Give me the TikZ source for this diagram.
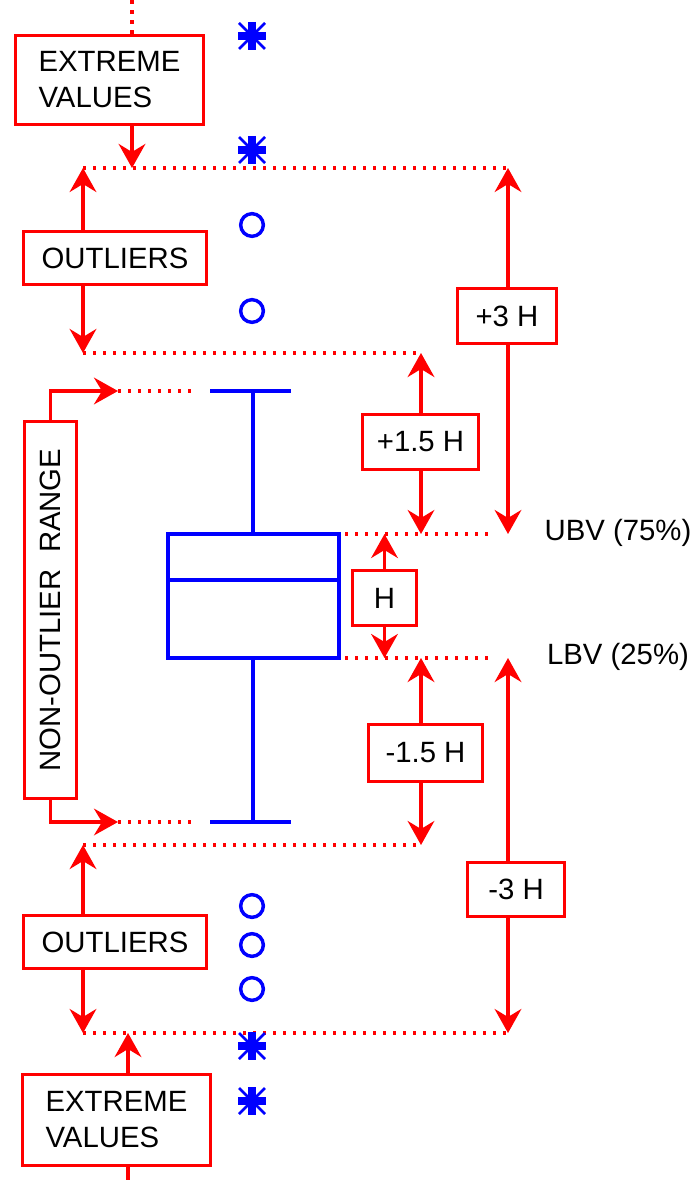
\documentclass[tikz,border=0pt]{standalone}
\usepackage{fontspec}
\setmainfont{Liberation Sans}
\usetikzlibrary{arrows.meta}
\tikzset{
  lbl/.style={font=\fontsize{22}{27}\selectfont},
  rbox/.style={draw=red,line width=2.6pt,inner sep=0pt,align=left,lbl},
  rline/.style={red,line width=2.6pt},
  rarr/.style={rline,-{Stealth[length=18pt,width=20pt,inset=6pt]}},
  rdots/.style={red,line width=2.6pt,dash pattern=on 2.6pt off 4.9pt},
  bline/.style={blue,line width=2.6pt},
  outl/.style={circle,draw=blue,line width=2.6pt,minimum size=17pt,inner sep=0pt},
}
\begin{document}
\begin{tikzpicture}[x=0.75pt,y=-0.75pt]
\useasboundingbox (0,0) rectangle (691,1180);

% boxes
\node[rbox,minimum width=141pt,minimum height=66.75pt] (ext1) at (109.5,80) {EXTREME\\VALUES};
\node[rbox,minimum width=137.25pt,minimum height=39.75pt] (out1) at (115,258) {OUTLIERS};
\node[rbox,minimum width=74.25pt,minimum height=41.25pt] (p3) at (507,316) {+3 H};
\node[rbox,minimum width=87pt,minimum height=41.25pt] (p15) at (420.5,442) {+1.5 H};
\node[rbox,minimum width=48pt,minimum height=41.25pt] (hbox) at (384.5,598) {H};
\node[rbox,minimum width=85.5pt,minimum height=42.75pt] (m15) at (425.5,753) {-1.5 H};
\node[rbox,minimum width=72.75pt,minimum height=40.5pt] (m3) at (516,889.5) {-3 H};
\node[rbox,minimum width=137.25pt,minimum height=39.75pt] (out2) at (115,942) {OUTLIERS};
\node[rbox,minimum width=141pt,minimum height=68.25pt] (ext2) at (116.5,1120) {EXTREME\\VALUES};
\node[rbox,minimum width=39pt,minimum height=282.75pt] (nor) at (50.5,610) {\rotatebox{90}{NON-OUTLIER~~RANGE}};

\node[lbl] (ubv) at (618,533) {UBV (75\%)};
\node[lbl] (lbv) at (618,657) {LBV (25\%)};

% dotted rows
\coordinate (top) at (132,0);
\coordinate (d1l) at (83,168);
\coordinate (d1m) at (132,168);
\coordinate (d1r) at (508,168);
\coordinate (d2l) at (83,353);
\coordinate (d2r) at (421,353);
\coordinate (u1) at (345,534);
\coordinate (u2) at (490,534);
\coordinate (l1) at (345,658);
\coordinate (l2) at (490,658);
\coordinate (d3l) at (83,845);
\coordinate (d3r) at (421,845);
\coordinate (d4l) at (83,1033);
\coordinate (d4m) at (128,1033);
\coordinate (d4r) at (508,1033);
\coordinate (bot) at (128,1180);
\coordinate (n1) at (118,391);
\coordinate (n1e) at (195,391);
\coordinate (n2) at (118,822);
\coordinate (n2e) at (195,822);

\draw[rdots] (ext1.north -| top) -- (top);
\draw[rdots] (d1l) -- (d1r);
\draw[rdots] (d2l) -- (d2r);
\draw[rdots] (u1) -- (u2);
\draw[rdots] (l1) -- (l2);
\draw[rdots] (d3l) -- (d3r);
\draw[rdots] (d4l) -- (d4r);
\draw[rdots] (n1) -- (n1e);
\draw[rdots] (n2) -- (n2e);
\draw[rline] (ext2.south -| bot) -- (bot);

% arrows
\draw[rarr] (ext1.south -| d1m) -- (d1m);
\draw[rarr] (out1.north -| d1l) -- (d1l);
\draw[rarr] (out1.south -| d2l) -- (d2l);
\draw[rarr] (p3.north -| d1r) -- (d1r);
\draw[rarr] (p3.south -| d1r) -- (d1r |- u2);
\draw[rarr] (p15.north -| d2r) -- (d2r);
\draw[rarr] (p15.south -| d2r) -- (d2r |- u1);
\draw[rarr] (hbox.north) -- (hbox.north |- u1);
\draw[rarr] (hbox.south) -- (hbox.south |- l1);
\draw[rarr] (m15.north -| d3r) -- (d3r |- l1);
\draw[rarr] (m15.south -| d3r) -- (d3r);
\draw[rarr] (m3.north -| d4r) -- (d4r |- l2);
\draw[rarr] (m3.south -| d4r) -- (d4r);
\draw[rarr] (out2.north -| d3l) -- (d3l);
\draw[rarr] (out2.south -| d4l) -- (d4l);
\draw[rarr] (ext2.north -| d4m) -- (d4m);
\draw[rarr] (nor.north) |- (n1);
\draw[rarr] (nor.south) |- (n2);

% box plot
\draw[bline] (168,534) rectangle (339,658);
\draw[bline] (168,580) -- (339,580);
\draw[bline] (253,534) -- (253,391) (210,391) -- (291,391);
\draw[bline] (253,658) -- (253,822) (210,822) -- (291,822);

% outliers and extremes
\foreach \y in {225,311,906,945,989}
  \node[outl] (o\y) at (252,\y) {};
\foreach \y in {36,150,1046,1101}{
  \draw[blue,line width=5.5pt] (238,\y) -- (266,\y) (252,\y-14) -- (252,\y+14);
  \draw[blue,line width=2pt] (239,\y-13) -- (265,\y+13) (239,\y+13) -- (265,\y-13);
}
\end{tikzpicture}
\end{document}
